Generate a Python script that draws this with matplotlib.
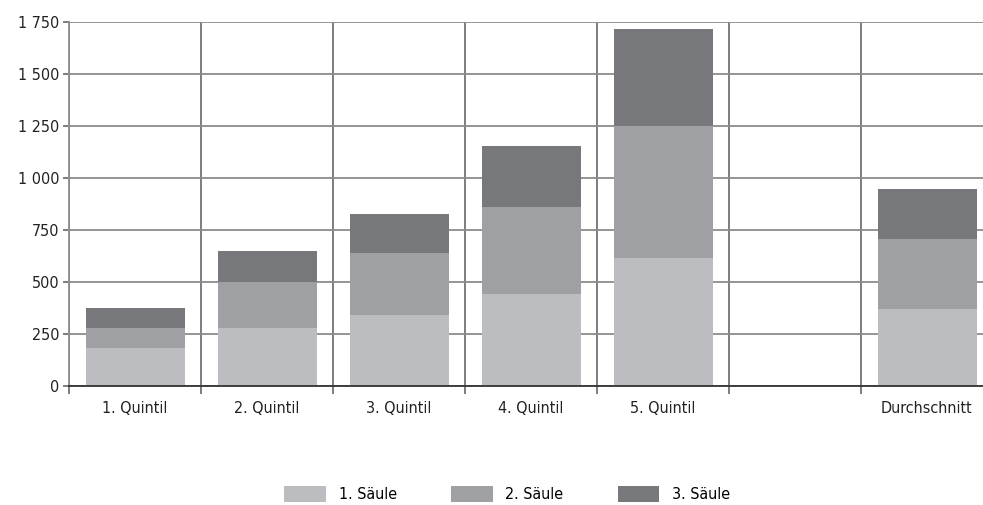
import matplotlib
matplotlib.use("Agg")
import matplotlib.pyplot as plt
from matplotlib.patches import Patch
from matplotlib.ticker import FuncFormatter, FixedLocator

plt.rcParams["font.family"] = ["DejaVu Sans"]
plt.rcParams["font.stretch"] = "condensed"

categories = ["1. Quintil", "2. Quintil", "3. Quintil", "4. Quintil", "5. Quintil", "", "Durchschnitt"]
saeule1 = [184, 280, 343, 444, 617, 0, 372]
saeule2 = [96, 221, 298, 418, 635, 0, 336]
saeule3 = [96, 149, 187, 293, 466, 0, 241]
series_names = ["1. Säule", "2. Säule", "3. Säule"]
colors = ["#bcbdc1", "#9fa0a4", "#77787c"]

fig = plt.figure(figsize=(9.83, 5.05), dpi=100)
ax = fig.add_axes([69 / 983, 1 - 386 / 505, 924 / 983, 364 / 505])

x = list(range(len(categories)))
bottom = [0] * len(x)
for vals, col in zip([saeule1, saeule2, saeule3], colors):
    ax.bar(x, vals, width=0.75, bottom=bottom, color=col, zorder=3, linewidth=0)
    bottom = [b + v for b, v in zip(bottom, vals)]

ax.set_xlim(-0.5, len(x) - 0.5)
ax.set_ylim(0, 1750)
ax.set_yticks(range(0, 1751, 250))
ax.yaxis.set_major_formatter(FuncFormatter(lambda v, p: f"{int(v):,}".replace(",", " ")))
ax.set_xticks(x)
ax.set_xticklabels(categories)
ax.xaxis.set_minor_locator(FixedLocator([i - 0.5 for i in range(len(x) + 1)]))

ax.grid(axis="y", which="major", color="#8c8c8c", linewidth=1.3, zorder=1)
ax.grid(axis="x", which="minor", color="#5a5a5a", linewidth=1.1, zorder=1)
ax.tick_params(axis="x", which="major", length=0, pad=11, labelsize=11.5, colors="#222222")
ax.tick_params(axis="x", which="minor", length=6, width=1.1, color="#5a5a5a")
ax.tick_params(axis="y", length=4, width=1.1, color="#5a5a5a", labelsize=11.5, labelcolor="#222222", pad=3)

for s in ["top", "right"]:
    ax.spines[s].set_visible(False)
ax.spines["left"].set_color("#8c8c8c")
ax.spines["left"].set_linewidth(1.3)
ax.spines["bottom"].set_color("#333333")
ax.spines["bottom"].set_linewidth(1.3)
ax.spines["bottom"].set_zorder(4)

handles = [Patch(facecolor=c, edgecolor="none", label=n) for c, n in zip(colors, series_names)]
fig.legend(handles=handles, loc="center", bbox_to_anchor=(0.516, 1 - 494 / 505), ncol=3,
           frameon=False, fontsize=11.5, handlelength=2.6, handleheight=1.2,
           handletextpad=0.8, columnspacing=3.4)

fig.savefig("out.png", dpi=100)
